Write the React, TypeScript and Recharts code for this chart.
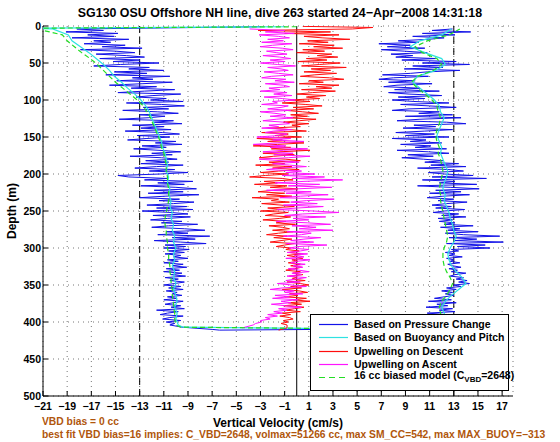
import React from 'react';
import {
  ScatterChart,
  Scatter,
  XAxis,
  YAxis,
  CartesianGrid,
  ReferenceLine,
  Legend,
} from 'recharts';

const FONT = '"Liberation Sans", Arial, Helvetica, sans-serif';

const BLUE = '#1212e8';
const CYAN = '#2ee2e2';
const RED = '#ff0d0d';
const MAGENTA = '#ff14ff';
const GREEN = '#24dd24';
const NOTE = '#b0560c';

const xTicks = [-21, -19, -17, -15, -13, -11, -9, -7, -5, -3, -1, 1, 3, 5, 7, 9, 11, 13, 15, 17];
const depthTicks = [0, 50, 100, 150, 200, 250, 300, 350, 400, 450, 500];

// noisy profiles, one value every 2 m from 4 m down to 404 m (cm/s), rows of 20 m
const STEP = 2;
const pressureDown = [
  -18.2, -16.0, -19.1, -14.8, -17.3, -15.1, -18.6, -13.9, -16.8, -15.4,
  -17.6, -14.2, -16.1, -12.8, -17.9, -15.0, -13.4, -16.6, -14.1, -12.6,
  -16.3, -13.0, -15.2, -11.4, -14.6, -16.8, -12.2, -13.9, -11.0, -15.1,
  -12.4, -15.8, -10.5, -13.6, -11.9, -14.9, -10.3, -12.8, -15.5, -11.6,
  -13.7, -10.1, -12.6, -14.8, -9.6, -11.9, -13.3, -10.8, -12.1, -9.4,
  -14.1, -11.2, -9.3, -12.7, -10.6, -14.4, -11.5, -9.8, -13.0, -10.9,
  -12.3, -14.7, -10.2, -11.8, -9.5, -13.6, -11.0, -12.9, -10.4, -14.2,
  -11.1, -9.7, -13.2, -10.5, -12.4, -14.0, -10.0, -11.7, -9.5, -12.8,
  -10.8, -13.5, -11.4, -9.6, -12.0, -10.3, -13.8, -11.2, -9.9, -12.5,
  -10.6, -12.9, -9.4, -11.6, -13.4, -10.1, -12.2, -9.0, -11.3, -14.8,
  -13.9, -10.7, -12.6, -8.6, -11.5, -9.3, -12.9, -10.0, -8.3, -11.8,
  -9.4, -12.3, -8.1, -10.9, -13.0, -9.7, -11.4, -8.5, -10.2, -12.4,
  -9.1, -11.6, -8.6, -12.8, -10.4, -9.0, -11.9, -8.8, -10.7, -12.1,
  -9.5, -11.2, -8.2, -10.6, -12.0, -9.3, -7.6, -10.8, -9.0, -11.5,
  -7.2, -10.3, -8.4, -11.8, -9.6, -7.5, -10.9, -9.2, -11.0, -8.9,
  -10.6, -9.3, -10.9, -9.6, -10.2, -9.0, -10.7, -9.8, -11.0, -9.4,
  -10.3, -9.1, -10.8, -9.7, -11.0, -9.5, -10.4, -9.2, -10.9, -9.8,
  -10.5, -9.3, -10.1, -11.0, -9.6, -10.6, -9.4, -10.8, -9.9, -10.3,
  -9.5, -10.7, -9.9, -11.0, -9.4, -10.2, -10.9, -9.6, -10.4, -9.3,
  -11.6, -9.8, -10.7, -11.3, -9.4, -10.5, -11.1, -9.6, -10.8, -10.1,
  -10.5,
];
const pressureUp = [
  12.9, 11.2, 14.4, 10.4, 13.1, 9.6, 12.2, 10.9, 8.4, 10.1,
  6.8, 9.4, 7.5, 10.6, 7.0, 8.9, 10.8, 7.8, 9.6, 8.2,
  11.5, 8.7, 13.2, 10.4, 14.3, 9.6, 12.1, 8.9, 13.5, 10.8,
  9.4, 7.1, 10.9, 8.0, 6.8, 9.8, 7.6, 11.2, 8.3, 7.2,
  10.2, 8.1, 11.8, 7.6, 9.3, 12.0, 8.4, 10.6, 7.9, 9.7,
  12.6, 8.6, 11.0, 13.2, 9.3, 7.9, 11.8, 10.1, 12.9, 9.0,
  13.6, 10.2, 8.3, 12.4, 14.0, 9.7, 11.5, 8.8, 12.9, 10.6,
  8.2, 11.4, 9.0, 12.6, 7.9, 10.7, 9.4, 12.0, 8.6, 11.1,
  9.8, 12.4, 8.3, 10.9, 12.6, 9.2, 11.3, 8.7, 10.5, 12.1,
  10.6, 13.4, 11.1, 14.0, 10.0, 12.6, 13.8, 10.9, 12.2, 14.6,
  11.2, 15.7, 10.4, 13.1, 11.8, 14.9, 10.0, 12.7, 15.1, 11.5,
  13.6, 11.0, 14.3, 12.1, 10.8, 13.0, 11.7, 14.1, 12.4, 11.2,
  12.8, 11.5, 13.9, 12.2, 11.3, 13.4, 12.0, 14.0, 11.7, 12.9,
  11.8, 13.1, 12.2, 14.6, 11.9, 13.5, 12.5, 15.0, 12.3, 13.8,
  16.8, 12.6, 14.9, 13.1, 17.1, 12.4, 15.6, 13.3, 16.0, 12.8,
  13.4, 12.3, 13.1, 12.6, 13.7, 12.4, 13.0, 12.7, 13.5, 12.5,
  12.9, 13.6, 12.6, 13.3, 12.8, 14.0, 13.1, 12.7, 13.8, 13.2,
  14.1, 13.4, 14.3, 13.0, 13.6, 12.4, 13.2, 12.0, 12.9, 12.3,
  13.0, 12.2, 11.4, 12.8, 10.9, 13.2, 11.6, 12.5, 10.7, 12.9,
  11.8, 13.1, 10.8, 12.4, 11.5, 13.0, 11.2, 12.6, 10.9, 12.0,
  11.5,
];
const upwellDown = [
  4.6, -3.2, 2.8, -1.0, 3.5, 0.6, 2.1, 4.4, 0.9, 2.6,
  0.2, 3.1, 1.4, 3.8, 0.5, 2.3, 0.0, 2.9, 1.7, 3.4,
  0.8, 2.5, 0.1, 3.6, 1.9, 0.4, 4.1, 1.2, 2.8, 0.6,
  3.3, 1.5, 0.3, 2.7, 3.9, 1.0, 2.2, 0.2, 3.5, 1.6,
  2.9, 0.4, 3.2, 1.3, 0.0, 2.4, 0.8, 1.9, -0.6, 1.1,
  -1.2, 0.7, 2.1, -0.3, 1.4, -0.9, 0.5, 1.8, -0.5, 0.9,
  -0.8, 1.6, 0.2, -1.1, 1.0, -0.4, 0.3, -2.2, -0.6, 0.8,
  -2.9, -0.7, -1.8, 0.4, -3.3, -1.2, -2.4, 0.6, -1.6, -3.6,
  -0.5, -2.1, 1.1, -1.4, -2.8, -0.2, -1.9, -3.1, -0.9, 0.3,
  -2.3, -1.0, -3.4, -0.4, -2.0, 0.2, -1.5, -3.0, -0.7, -2.6,
  -3.9, -1.2, -0.3, -2.7, -1.6, -3.5, -0.8, -2.2, 0.1, -1.9,
  -3.2, -1.0, -2.5, -0.4, -3.7, -1.5, -2.1, -0.6, -2.9, -1.3,
  -0.2, -2.4, -1.1, -3.0, -0.7, -1.9, -2.6, -0.5, -1.4, -2.8,
  -0.9, -1.7, -0.1, -2.3, -1.2, -0.6, -2.0, -0.3, -1.5, -2.5,
  -0.8, -1.9, -0.4, -1.3, -2.2, -0.2, -1.0, -1.7, -0.5, -0.9,
  0.2, -0.6, 0.4, -0.8, -0.1, 0.5, -0.4, 0.1, -0.7, 0.3,
  -0.5, 0.4, -0.2, -0.9, 0.3, -0.3, 0.5, -0.6, 0.0, -0.4,
  0.7, -0.8, 0.3, 1.0, -0.5, 0.4, -1.2, 0.2, 0.9, -0.6,
  0.1, -1.0, 0.8, -0.3, 1.1, -0.7, 0.4, -1.1, 0.6, -0.2,
  -0.9, 0.3, -1.2, -0.5, -1.4, -0.6, -0.3, -1.1, -0.7, -1.3,
  -0.8,
];
const upwellUp = [
  -3.9, -1.0, -2.6, -0.2, -3.1, -1.5, -0.6, -2.4, -1.1, -2.9,
  -0.4, -2.0, -3.0, -1.2, -0.3, -2.5, -1.7, -0.8, -2.8, -1.4,
  -0.5, -2.2, -1.0, -3.0, -1.6, -0.1, -2.4, -1.3, -0.7, -2.7,
  -1.5, -0.3, -2.1, -2.9, -0.9, -1.8, -0.2, -2.6, -1.1, -0.6,
  -2.3, -1.4, -3.0, -0.8, -1.9, -0.4, -2.7, -1.2, -0.1, -2.0,
  -1.6, -2.9, -0.7, -1.3, -2.4, -0.5, -3.0, -1.8, -0.9, -2.2,
  -0.3, -1.7, -2.8, -1.0, -0.6, -2.3, -1.5, -2.9, -0.4, -1.9,
  -2.6, -0.8, -1.4, -3.3, -0.5, -2.0, 0.6, -1.6, -3.6, -0.9,
  -2.2, 0.9, -1.1, -2.8, -0.3, -1.9, 1.1, -0.7, -3.1, -1.3,
  0.2, -2.0, -0.6, 0.8, -1.5, -2.5, 0.4, -0.9, 1.5, -1.2,
  2.3, -0.4, 3.8, 0.6, -1.8, 1.9, -0.7, 2.9, 0.1, -2.5,
  1.2, -0.9, 2.6, 0.3, -1.4, 3.1, 0.8, -0.5, 1.7, -1.1,
  2.2, 0.0, -1.6, 1.4, 3.5, 0.5, -1.0, 2.4, -0.3, 1.0,
  -1.7, 0.9, 2.8, -0.4, 1.6, 0.2, 3.0, -0.8, 1.2, 0.4,
  -1.1, 2.0, 0.6, -0.5, 1.4, -0.9, 2.5, 0.1, -0.6, 1.0,
  0.3, -0.8, 0.9, -0.2, 0.6, -0.9, 1.1, 0.0, -0.5, 0.7,
  -0.3, 0.5, -0.7, 0.2, 1.0, -0.4, 0.4, -0.8, 0.8, -0.1,
  -0.9, 0.3, -1.6, -0.4, 0.8, -1.2, -2.2, -0.2, -1.0, 0.5,
  -1.8, -0.6, -2.0, 0.1, -1.3, -0.5, -2.1, -0.9, 0.4, -1.5,
  -0.8, -1.9, -1.2, -2.4, -1.6, -2.6, -2.2, -3.0, -2.9, -3.4,
  -3.6,
];

// smoother model profiles, one value every 8 m from 4 m down to 404 m
const STEP_MODEL = 8;
const buoyDown = [
  -20.2, -18.9, -18.6, -17.9, -17.2, -16.6, -16.0, -15.5, -15.1, -14.5,
  -14.0, -13.4, -12.9, -12.5, -12.2, -12.0, -11.8, -11.6, -11.4, -11.2,
  -11.1, -10.9, -10.8, -10.7, -10.8, -10.6, -10.7, -10.5, -10.6, -10.4,
  -10.5, -10.3, -10.4, -10.2, -10.3, -10.1, -10.2, -10.0, -10.2, -10.1,
  -10.3, -10.1, -10.2, -10.0, -10.2, -10.0, -9.9, -10.1, -9.9, -10.0,
  -9.8,
];
const buoyUp = [
  12.8, 12.0, 10.2, 9.4, 10.6, 12.0, 12.3, 11.5, 10.0, 9.6,
  10.2, 10.8, 11.4, 11.8, 11.9, 12.2, 12.0, 11.8, 11.6, 11.8,
  12.0, 11.9, 12.1, 12.3, 12.5, 12.4, 12.2, 12.1, 12.3, 12.2,
  12.4, 12.6, 12.7, 12.9, 13.0, 13.2, 13.0, 12.7, 12.5, 12.6,
  12.8, 13.2, 13.7, 14.0, 13.4, 12.8, 12.3, 12.0, 12.2, 12.4,
  11.9,
];
const biasDown = [
  -21.5, -19.4, -19.0, -18.4, -17.8, -17.1, -16.5, -16.0, -15.5, -15.0,
  -14.4, -13.8, -13.2, -12.7, -12.4, -12.1, -11.9, -11.7, -11.5, -11.3,
  -11.2, -11.0, -10.9, -10.8, -10.8, -10.7, -10.7, -10.6, -10.6, -10.6,
  -10.7, -10.8, -10.9, -10.9, -10.8, -10.8, -10.7, -10.7, -10.6, -10.6,
  -10.5, -10.5, -10.4, -10.4, -10.3, -10.3, -10.2, -10.2, -10.1, -10.1,
  -10.0,
];
const biasUp = [
  13.5, 12.6, 10.8, 9.8, 10.4, 11.6, 12.0, 11.3, 10.0, 9.5,
  10.0, 10.6, 11.2, 11.6, 11.7, 11.9, 11.8, 11.6, 11.5, 11.6,
  11.8, 11.7, 11.9, 12.0, 12.1, 12.0, 11.9, 11.8, 11.9, 11.9,
  12.0, 12.1, 12.2, 12.3, 12.4, 12.5, 12.4, 12.2, 12.1, 12.1,
  12.2, 12.4, 12.7, 12.9, 12.7, 12.4, 12.0, 11.8, 11.9, 12.0,
  11.6,
];

// surface start and apogee turn, as [velocity, depth]
const pressureTop = [[-3, 1]];
const pressureTurn = [[-9.5, 407], [-7, 410], [-6.4, 411], [2, 410]];
const buoyTop = [[-1, 1], [-22, 3]];
const buoyTurn = [[-9.4, 407], [3, 409], [11, 408]];
const biasTop = [[0, 1], [-22, 3]];
const biasTurn = [[-9.6, 407], [4, 409], [11, 407]];
const upwellDownTop = [[0.5, 0.5], [6.3, 2]];
const upwellDownEnd = [[-0.8, 408], [-1.5, 411]];
const upwellUpEnd = [[-4.5, 408]];

const onGrid = (vals: number[], step: number) => vals.map((v, i) => ({ x: v, y: 4 + i * step }));
const toPts = (pairs: number[][]) => pairs.map(([x, y]) => ({ x, y }));

const pressureData = [
  ...toPts(pressureTop),
  ...onGrid(pressureDown, STEP),
  ...toPts(pressureTurn),
  ...onGrid(pressureUp, STEP).reverse(),
];
const buoyData = [
  ...toPts(buoyTop),
  ...onGrid(buoyDown, STEP_MODEL),
  ...toPts(buoyTurn),
  ...onGrid(buoyUp, STEP_MODEL).reverse(),
];
const biasData = [
  ...toPts(biasTop),
  ...onGrid(biasDown, STEP_MODEL),
  ...toPts(biasTurn),
  ...onGrid(biasUp, STEP_MODEL).reverse(),
];
const upwellDownData = [...toPts(upwellDownTop), ...onGrid(upwellDown, STEP), ...toPts(upwellDownEnd)];
const upwellUpData = [...onGrid(upwellUp, STEP), ...toPts(upwellUpEnd)];

const legendRows = [
  { key: 'p', color: BLUE, label: <>Based on Pressure Change</> },
  { key: 'b', color: CYAN, label: <>Based on Buoyancy and Pitch</> },
  { key: 'd', color: RED, label: <>Upwelling on Descent</> },
  { key: 'a', color: MAGENTA, label: <>Upwelling on Ascent</> },
  {
    key: 'm',
    color: GREEN,
    dashed: true,
    label: (
      <>
        16 cc biased model (C<sub style={{ fontSize: 8, verticalAlign: -3 }}>VBD</sub>=2648)
      </>
    ),
  },
];

const noDot = () => <g />;

const LegendBox = () => (
  <div
    style={{
      width: 197,
      height: 75,
      border: '1px solid #000',
      background: '#fff',
      position: 'relative',
      fontFamily: FONT,
      fontWeight: 'bold',
      fontSize: 10.5,
      color: '#000',
    }}
  >
    {legendRows.map((r, i) => (
      <div
        key={r.key}
        style={{ position: 'absolute', left: 0, top: 3 + i * 13.3, height: 13, display: 'flex', alignItems: 'center' }}
      >
        <svg width={43} height={13}>
          <line
            x1={8}
            x2={37}
            y1={6.5}
            y2={6.5}
            stroke={r.color}
            strokeWidth={1.2}
            strokeDasharray={r.dashed ? '6 4' : undefined}
          />
        </svg>
        <span style={{ whiteSpace: 'nowrap', lineHeight: '13px' }}>{r.label}</span>
      </div>
    ))}
  </div>
);

const tickStyle = { fill: '#000', fontSize: 10.5, fontWeight: 'bold', fontFamily: FONT };
const blank = () => '';

export default function App() {
  return (
    <div style={{ position: 'absolute', left: 0, top: 0, width: 560, height: 442, background: '#fff' }}>
      <div
        style={{
          position: 'absolute', left: 0, width: 560, top: 6, textAlign: 'center',
          fontFamily: FONT, fontWeight: 'bold', fontSize: 12.4, lineHeight: '14px', color: '#000',
        }}
      >
        SG130 OSU Offshore NH line, dive 263 started 24{'\u2212'}Apr{'\u2212'}2008 14:31:18
      </div>
      <ScatterChart width={560} height={442} margin={{ top: 26, right: 47, bottom: 16, left: 0 }}>
        <CartesianGrid stroke="#777" strokeDasharray="1 4" />
        <XAxis
          type="number"
          dataKey="x"
          domain={[-21, 17.9]}
          ticks={xTicks}
          interval={0}
          allowDataOverflow
          height={30}
          tickSize={-5}
          tickMargin={12}
          tick={tickStyle}
          tickFormatter={(v: number) => String(v).replace('-', '\u2212')}
          axisLine={{ stroke: '#000' }}
          tickLine={{ stroke: '#000' }}
        />
        <XAxis
          xAxisId="top"
          orientation="top"
          type="number"
          domain={[-21, 17.9]}
          ticks={xTicks}
          interval={0}
          allowDataOverflow
          height={0}
          tickSize={-5}
          tickFormatter={blank}
          axisLine={{ stroke: '#000' }}
          tickLine={{ stroke: '#000' }}
        />
        <YAxis
          type="number"
          dataKey="y"
          domain={[0, 500]}
          reversed
          ticks={depthTicks}
          interval={0}
          allowDataOverflow
          width={43}
          tickSize={-5}
          tickMargin={7}
          tick={tickStyle}
          axisLine={{ stroke: '#000' }}
          tickLine={{ stroke: '#000' }}
        />
        <YAxis
          yAxisId="right"
          orientation="right"
          type="number"
          domain={[0, 500]}
          reversed
          ticks={depthTicks}
          interval={0}
          allowDataOverflow
          width={0}
          tickSize={-5}
          tickFormatter={blank}
          axisLine={{ stroke: '#000' }}
          tickLine={{ stroke: '#000' }}
        />
        <ReferenceLine x={-13} stroke="#000" strokeDasharray="7 4" />
        <ReferenceLine x={13} stroke="#000" strokeDasharray="7 4" />
        <ReferenceLine x={0} stroke="#000" />
        <Scatter
          data={pressureData}
          line={{ stroke: BLUE, strokeWidth: 1 }}
          lineType="joint"
          shape={noDot}
          fill={BLUE}
          legendType="none"
          isAnimationActive={false}
        />
        <Scatter
          data={buoyData}
          line={{ stroke: CYAN, strokeWidth: 1.2 }}
          lineType="joint"
          shape={noDot}
          fill={CYAN}
          legendType="none"
          isAnimationActive={false}
        />
        <Scatter
          data={upwellDownData}
          line={{ stroke: RED, strokeWidth: 1 }}
          lineType="joint"
          shape={noDot}
          fill={RED}
          legendType="none"
          isAnimationActive={false}
        />
        <Scatter
          data={upwellUpData}
          line={{ stroke: MAGENTA, strokeWidth: 1 }}
          lineType="joint"
          shape={noDot}
          fill={MAGENTA}
          legendType="none"
          isAnimationActive={false}
        />
        <Scatter
          data={biasData}
          line={{ stroke: GREEN, strokeWidth: 1.2, strokeDasharray: '5 3' }}
          lineType="joint"
          shape={noDot}
          fill={GREEN}
          legendType="none"
          isAnimationActive={false}
        />
        <Legend
          layout="vertical"
          align="center"
          verticalAlign="middle"
          content={<LegendBox />}
          wrapperStyle={{ left: 310, top: 314, width: 199, height: 77 }}
        />
      </ScatterChart>
      <div
        style={{
          position: 'absolute', left: 0, width: 556, top: 416, textAlign: 'center',
          fontFamily: FONT, fontWeight: 'bold', fontSize: 12, lineHeight: '14px', color: '#000',
        }}
      >
        Vertical Velocity (cm/s)
      </div>
      <div
        style={{
          position: 'absolute', left: 12, top: 211, transform: 'translate(-50%, -50%) rotate(-90deg)',
          fontFamily: FONT, fontWeight: 'bold', fontSize: 12, lineHeight: '14px', color: '#000', whiteSpace: 'nowrap',
        }}
      >
        Depth (m)
      </div>
      <div
        style={{
          position: 'absolute', left: 42, top: 416, fontFamily: FONT, fontWeight: 'bold',
          fontSize: 10.3, lineHeight: '12px', color: NOTE, whiteSpace: 'nowrap',
        }}
      >
        VBD bias = 0 cc
      </div>
      <div
        style={{
          position: 'absolute', left: 42, top: 429, fontFamily: FONT, fontWeight: 'bold',
          fontSize: 10.3, lineHeight: '12px', color: NOTE, whiteSpace: 'nowrap',
        }}
      >
        best fit VBD bias=16 implies: C_VBD=2648, volmax=51266 cc, max SM_CC=542, max MAX_BUOY={'\u2212'}313
      </div>
    </div>
  );
}
